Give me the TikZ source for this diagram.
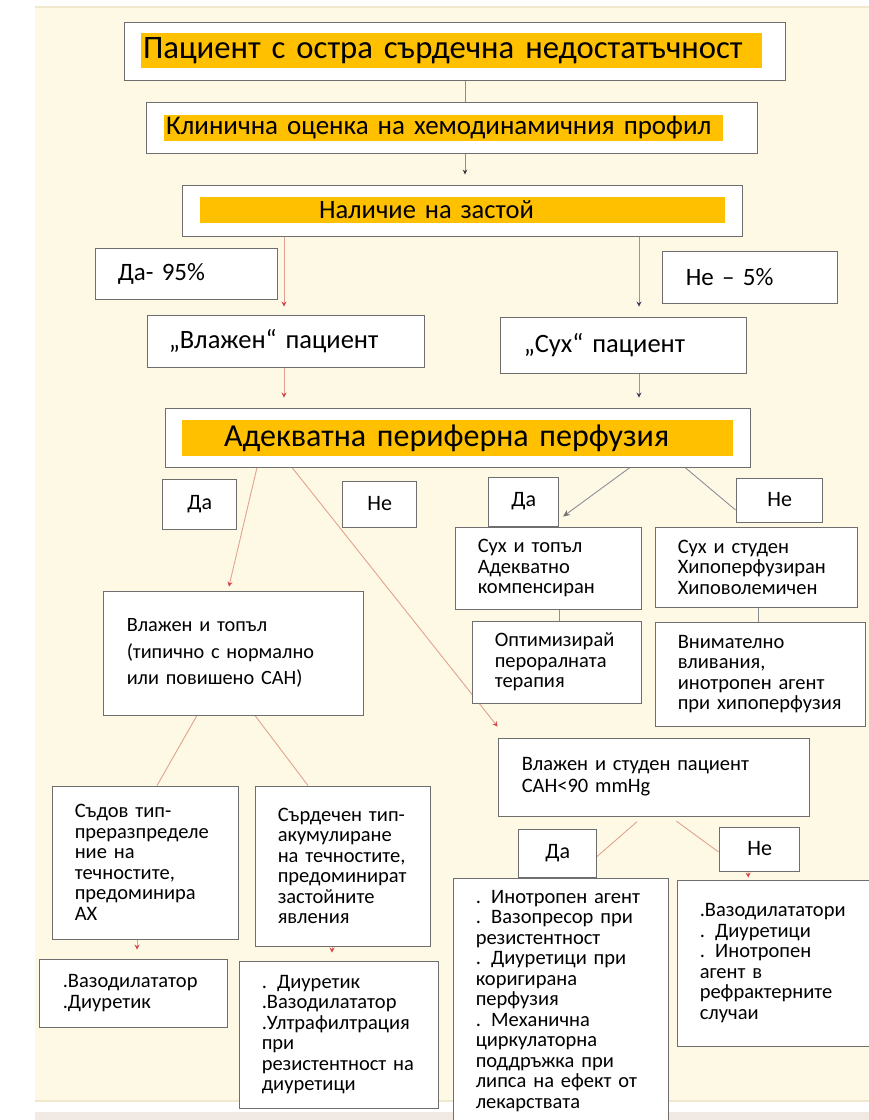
\documentclass[tikz,border=0pt]{standalone}
\usepackage{fontspec}
\setmainfont{Carlito}
\usetikzlibrary{arrows.meta}
\pgfdeclarelayer{back}
\pgfsetlayers{back,main}
\definecolor{cream}{HTML}{FEF9E4}
\definecolor{creamline}{HTML}{EFE8CF}
\definecolor{band}{HTML}{F1EAE4}
\definecolor{hlc}{HTML}{FFC000}
\definecolor{edge}{HTML}{6E6E6E}
\definecolor{redl}{HTML}{E2A292}
\definecolor{redt}{HTML}{D6434A}
\definecolor{bluel}{HTML}{9494AE}
\definecolor{bluet}{HTML}{3E3E5E}
\definecolor{grl}{HTML}{8E8E9A}
\tikzstyle{bx} = [draw=edge, fill=white, rectangle, line width=0.9pt, inner sep=0pt]
\tikzstyle{hl} = [fill=hlc, rectangle, inner sep=0pt]
\tikzstyle{tx} = [inner sep=0pt, align=left, text=black]
\tikzstyle{tc} = [inner sep=0pt, align=center, text=black]
\tikzstyle{fbig} = [tx, font=\fontsize{32.7}{37}\selectfont]
\tikzstyle{fclin} = [tx, font=\fontsize{27}{31}\selectfont]
\tikzstyle{fzast} = [tx, font=\fontsize{26.5}{30}\selectfont]
\tikzstyle{fadek} = [tx, font=\fontsize{32}{36}\selectfont]
\tikzstyle{fmid} = [tx, font=\fontsize{25}{29}\selectfont]
\tikzstyle{fpat} = [tx, font=\fontsize{26.5}{30}\selectfont]
\tikzstyle{flab} = [tc, font=\fontsize{22}{26}\selectfont]
\tikzstyle{fsm} = [tx, font=\fontsize{20.5}{20.5}\selectfont]
\tikzstyle{fvt} = [tx, font=\fontsize{20.3}{26.7}\selectfont]
\tikzstyle{fvs} = [tx, font=\fontsize{20.5}{22}\selectfont]
\tikzstyle{rd} = [draw=redl, line width=0.9pt, -{Stealth[length=5pt,width=5pt,color=redt]}]
\tikzstyle{rdl} = [draw=redl, line width=0.9pt]
\tikzstyle{bl} = [draw=bluel, line width=0.9pt, -{Stealth[length=5pt,width=5pt,color=bluet]}]
\tikzstyle{gr} = [draw=grl, line width=0.9pt]
% box from corners (x1,y1)-(x2,y2), text indented by #7
\newcommand{\tbox}[9][bx]{%
  \pgfmathsetmacro{\bw}{#5-#3}%
  \pgfmathsetmacro{\bh}{#6-#4}%
  \pgfmathsetmacro{\tw}{#5-#3-#7}%
  \node[#1, minimum width=\bw pt, minimum height=\bh pt] (#2) at ({(#3+#5)/2},{(#4+#6)/2}) {};
  \node[#8, text width=\tw pt, anchor=west] (#2t) at ([xshift=#7pt]#2.west) {#9};
}

\begin{document}
\begin{tikzpicture}[x=1pt, y=-1pt]
\useasboundingbox (0,0) rectangle (869,1120);

\tbox{pat}{124}{22}{785}{80}{0}{tx}{}
\tbox[hl]{path}{141}{33}{762}{68}{2}{fbig}{Пациент с остра сърдечна недостатъчност}
\tbox{clin}{146}{102}{757}{153}{0}{tx}{}
\tbox[hl]{clinh}{164}{115}{723}{141}{2}{fclin}{Клинична оценка на хемодинамичния профил}
\tbox{zast}{182}{185}{742}{236}{0}{tx}{}
\tbox[hl]{zasth}{200}{197}{725}{223}{119}{fzast}{Наличие на застой}

\tbox{da95}{95}{248}{277}{299}{23}{fmid}{Да- 95\%}
\tbox{ne5}{662}{251}{837}{303}{24}{fmid}{Не – 5\%}
\tbox{vlazh}{147}{315}{424}{367}{22}{fpat}{„Влажен“ пациент}
\tbox{suh}{500}{317}{746}{373}{24}{fpat}{„Сух“ пациент}

\tbox{adek}{165}{408}{750}{467}{0}{tx}{}
\tbox[hl]{adekh}{182}{420}{733}{456}{42}{fadek}{Адекватна периферна перфузия}

\tbox{da1}{162}{479}{236}{529}{2}{flab}{Да}
\tbox{ne1}{342}{481}{416}{527}{2}{flab}{Не}
\tbox{da2}{488}{477}{558}{526}{2}{flab}{Да}
\tbox{ne2}{736}{478}{822}{522}{2}{flab}{Не}

\tbox{tw}{455}{527}{641}{609}{23}{fsm}{Сух и топъл\\Адекватно\\компенсиран}
\tbox{sc}{655}{527}{857}{607}{23}{fsm}{Сух и студен\\Хипоперфузиран\\Хиповолемичен}
\tbox{opt}{472}{621}{641}{703}{23}{fsm}{Оптимизирай\\пероралната\\терапия}
\tbox{att}{655}{622}{865}{726}{23}{fsm}{Внимателно\\вливания,\\инотропен агент\\при хипоперфузия}

\tbox{vt}{103}{591}{363}{715}{24}{fvt}{Влажен и топъл\\(типично с нормално\\или повишено САН)}
\tbox{vs}{498}{738}{809}{816}{24}{fvs}{Влажен и студен пациент\\САН<90 mmHg}

\tbox{sd}{52}{786}{238}{939}{23}{fsm}{Съдов тип-\\преразпределе\\ние на\\течностите,\\предоминира\\АХ}
\tbox{cd}{255}{786}{430}{946}{23}{fsm}{Сърдечен тип-\\акумулиране\\на течностите,\\предоминират\\застойните\\явления}
\tbox{sdt}{39}{959}{227}{1027}{24}{fsm}{.Вазодилататор\\.Диуретик}
\tbox{cdt}{239}{961}{438}{1108}{23}{fsm}{. Диуретик\\.Вазодилататор\\.Ултрафилтрация\\при\\резистентност на\\диуретици}

\tbox{da3}{518}{829}{596}{877}{2}{flab}{Да}
\tbox{ne3}{719}{827}{799}{871}{2}{flab}{Не}
\tbox{ino}{453}{878}{668}{1124}{23}{fsm}{. Инотропен агент\\. Вазопресор при\\резистентност\\. Диуретици при\\коригирана\\перфузия\\. Механична\\циркулаторна\\поддръжка при\\липса на ефект от\\лекарствата}
\tbox{vaz}{677}{880}{871}{1046}{23}{fsm}{.Вазодилататори\\. Диуретици\\. Инотропен\\агент в\\рефрактерните\\случаи}

\begin{pgfonlayer}{back}
\fill[white] (0,0) rectangle (869,1120);
\fill[cream] (35,8) rectangle (869,1100);
\draw[creamline, line width=2pt] (35,7) -- (869,7);
\draw[creamline, line width=1.5pt] (35,1101) -- (869,1101);
\fill[band] (35,1112) rectangle (869,1120);

\draw[gr] ([xshift=10.5pt]pat.south) -- ([xshift=13.5pt]clin.north);
\draw[gr, -{Stealth[length=5pt,width=4.5pt,color=black!80]}, shorten >=10pt]
  ([xshift=13.5pt]clin.south) -- ([xshift=3pt]zast.north);
\draw[rd, shorten >=8pt] ([xshift=-178pt]zast.south) -- ([xshift=-1.5pt]vlazh.north);
\draw[rd, shorten >=10pt] ([xshift=-1.5pt]vlazh.south) -- ([xshift=-173.5pt]adek.north);
\draw[bl, shorten >=10pt] ([xshift=177pt]zast.south) -- ([xshift=16pt]suh.north);
\draw[bl, shorten >=10pt] ([xshift=16pt]suh.south) -- ([xshift=181.5pt]adek.north);

\draw[rd, shorten >=4pt] ([xshift=-200.5pt]adek.south) -- ([xshift=-5pt]vt.north);
\draw[rd] ([xshift=-165.5pt]adek.south) -- ([yshift=11pt]vs.north west);
\draw[gr, -{Stealth[length=7pt,width=6pt,color=black!55]}]
  ([xshift=172.5pt]adek.south) -- ([xshift=15pt,yshift=10pt]tw.north);
\draw[gr] ([xshift=227.5pt]adek.south) -- ([yshift=-10pt]ne2.west);
\draw[gr] ([xshift=11pt]tw.south) -- ([xshift=2.5pt]opt.north);
\draw[gr] ([xshift=2pt]sc.south) -- ([xshift=-2pt]att.north);

\draw[rdl] ([xshift=-36pt]vt.south) -- ([xshift=12pt]sd.north);
\draw[rdl] ([xshift=22pt]vt.south) -- ([xshift=-34.5pt]cd.north);
\draw[rd, shorten >=9pt] ([xshift=-8pt]sd.south) -- ([xshift=4pt]sdt.north);
\draw[rd, shorten >=8pt] ([xshift=-10.5pt]cd.south) -- ([xshift=-6.5pt]cdt.north);

\draw[rdl, shorten <=8pt] ([xshift=-10.5pt]vs.south) -- ([yshift=-4pt]da3.east);
\draw[rdl, shorten <=8pt] ([xshift=16.5pt]vs.south) -- ([yshift=-3pt]ne3.west);
\draw[rd, shorten >=2pt] ([xshift=-11pt]ne3.south) -- ([xshift=-25.5pt]vaz.north);
\end{pgfonlayer}

\end{tikzpicture}
\end{document}
